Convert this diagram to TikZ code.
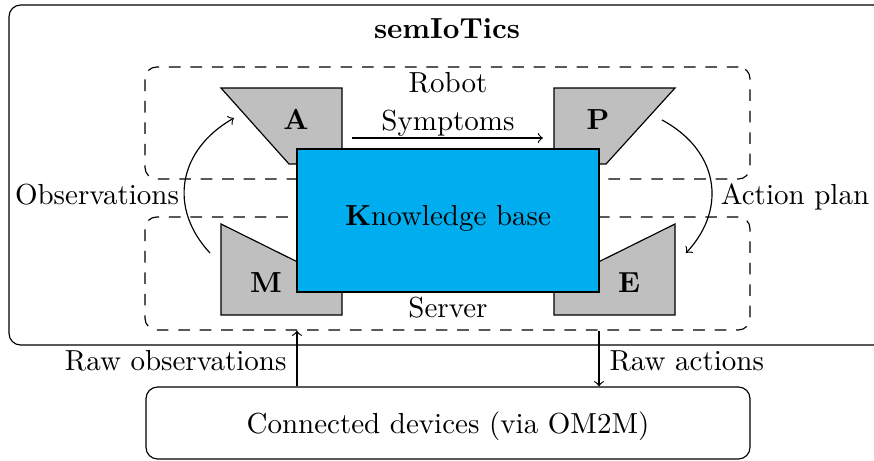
\documentclass[tikz,border=0pt]{standalone}
\usetikzlibrary{fit}
\definecolor{kbcyan}{RGB}{0,174,239}
\begin{document}
\begin{tikzpicture}[x=0.3449pt,y=-0.3449pt,
  box/.style={draw, rounded corners=4pt, inner sep=0pt},
  dbox/.style={box, dash pattern=on 4pt off 3.4pt},
  blk/.style={draw, fill=lightgray},
  txt/.style={anchor=base, inner sep=0pt},
  arr/.style={->}]
\useasboundingbox (0,0) rectangle (874,460);
% outer box
\node[box, fit={(9,5) (910,345)}] (outer) {};
\node[txt, font=\bfseries] (title) at (447,38) {semIoTics};
% robot / server areas
\node[dbox, fit={(145,67) (750,179)}] (robot) {};
\node[dbox, fit={(145,217) (750,330)}] (server) {};
\node[txt] (robotlbl) at (448,92) {Robot};
\node[txt] (serverlbl) at (448,317) {Server};
% MAPE shapes
\draw[blk] (221,88) -- (342,88) -- (342,164) -- (289,164) -- cycle;
\draw[blk] (554,88) -- (675,88) -- (606,164) -- (554,164) -- cycle;
\draw[blk] (221,224) -- (342,284) -- (342,315) -- (221,315) -- cycle;
\draw[blk] (675,224) -- (675,315) -- (554,315) -- (554,284) -- cycle;
\node[txt, font=\bfseries] (A) at (296,129.5) {A};
\node[txt, font=\bfseries] (P) at (598,129.5) {P};
\node[txt, font=\bfseries] (M) at (266,292) {M};
\node[txt, font=\bfseries] (E) at (629,292) {E};
% knowledge base
\node[draw, fill=kbcyan, inner sep=0pt, fit={(297,149) (599,292)}] (kb) {};
\node[txt] (kblbl) at (448,225) {\textbf{K}nowledge base};
% symptoms
\coordinate (symS) at (352,138);
\coordinate (symE) at (543,138);
\draw[arr] (symS) -- (symE);
\node[txt] (symlbl) at (448,130) {Symptoms};
% observations
\coordinate (obsS) at (210,253);
\coordinate (obsE) at (234,118);
\draw[arr] (obsS) .. controls (168,208) and (178,150) .. (obsE);
\node[txt] (obslbl) at (97,204) {Observations};
% action plan
\coordinate (actS) at (662,120);
\coordinate (actE) at (686,253);
\draw[arr] (actS) .. controls (718,150) and (728,208) .. (actE);
\node[txt] (actlbl) at (795,204) {Action plan};
% connected devices
\node[box, fit={(146,387) (750,459)}] (cd) {};
\node[txt] (cdlbl) at (448,433) {Connected devices (via OM2M)};
\coordinate (rox) at (297,0);
\coordinate (rax) at (599,0);
\draw[arr] (cd.north -| rox) -- (server.south -| rox);
\draw[arr] (server.south -| rax) -- (cd.north -| rax);
\node[txt, anchor=base east] (rolbl) at (287,370) {Raw observations};
\node[txt, anchor=base west] (ralbl) at (609,370) {Raw actions};
\end{tikzpicture}
\end{document}
